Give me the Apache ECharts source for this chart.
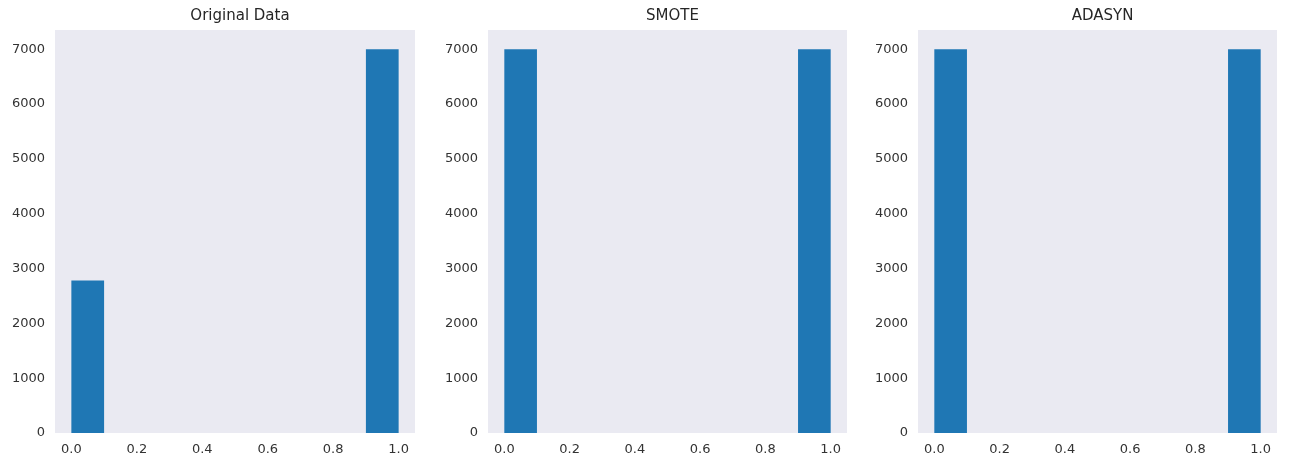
<!DOCTYPE html>
<html>
<head>
<meta charset="utf-8">
<script src="https://cdn.jsdelivr.net/npm/echarts@6/dist/echarts.min.js"></script>
<style>
html,body{margin:0;padding:0;background:#fff;}
#c{width:1291px;height:463px;}
</style>
</head>
<body>
<div id="c"></div>
<script>
const titles = ['Original Data', 'SMOTE', 'ADASYN'];
const binEdges = [0, 0.1, 0.2, 0.3, 0.4, 0.5, 0.6, 0.7, 0.8, 0.9, 1.0];
const countsOriginal = [2780, 0, 0, 0, 0, 0, 0, 0, 0, 7000];
const countsSmote = [7000, 0, 0, 0, 0, 0, 0, 0, 0, 7000];
const countsAdasyn = [7000, 0, 0, 0, 0, 0, 0, 0, 0, 7000];
const xTicks = [0, 0.2, 0.4, 0.6, 0.8, 1.0];
const yTicks = [0, 1000, 2000, 3000, 4000, 5000, 6000, 7000];

const allCounts = [countsOriginal, countsSmote, countsAdasyn];
const gridPos = [
  {left: 55, width: 360},
  {left: 488, width: 359},
  {left: 918, width: 359}
];
const font = 'DejaVu Sans';

const option = {
  animation: false,
  backgroundColor: '#ffffff',
  title: titles.map((t, i) => ({
    text: t,
    left: gridPos[i].left + gridPos[i].width / 2,
    textAlign: 'center',
    top: 4,
    textStyle: {fontFamily: font, fontSize: 15, fontWeight: 'normal', color: '#262626'}
  })),
  grid: gridPos.map(g => ({
    left: g.left, width: g.width, top: 30, bottom: 30,
    show: true, backgroundColor: '#EAEAF2', borderWidth: 0
  })),
  xAxis: gridPos.map((g, i) => ({
    type: 'value', gridIndex: i, min: -0.05, max: 1.05,
    axisLine: {show: false}, axisTick: {show: false}, splitLine: {show: false},
    axisLabel: {
      customValues: xTicks, margin: 10,
      fontFamily: font, fontSize: 13, color: '#333',
      formatter: v => v.toFixed(1)
    }
  })),
  yAxis: gridPos.map((g, i) => ({
    type: 'value', gridIndex: i, min: 0, max: 7350,
    axisLine: {show: false}, axisTick: {show: false}, splitLine: {show: false},
    axisLabel: {
      customValues: yTicks, margin: 10,
      fontFamily: font, fontSize: 13, color: '#333',
      formatter: v => String(v)
    }
  })),
  series: allCounts.map((counts, i) => ({
    type: 'custom',
    xAxisIndex: i, yAxisIndex: i,
    data: counts.map((c, k) => [binEdges[k], binEdges[k + 1], c]),
    encode: {x: [0, 1], y: 2},
    renderItem: function (params, api) {
      const p0 = api.coord([api.value(0), 0]);
      const p1 = api.coord([api.value(1), api.value(2)]);
      return {
        type: 'rect',
        shape: {x: p0[0], y: p1[1], width: p1[0] - p0[0], height: p0[1] - p1[1]},
        style: {fill: '#1f77b4'}
      };
    }
  }))
};

echarts.init(document.getElementById('c')).setOption(option);
</script>
</body>
</html>
